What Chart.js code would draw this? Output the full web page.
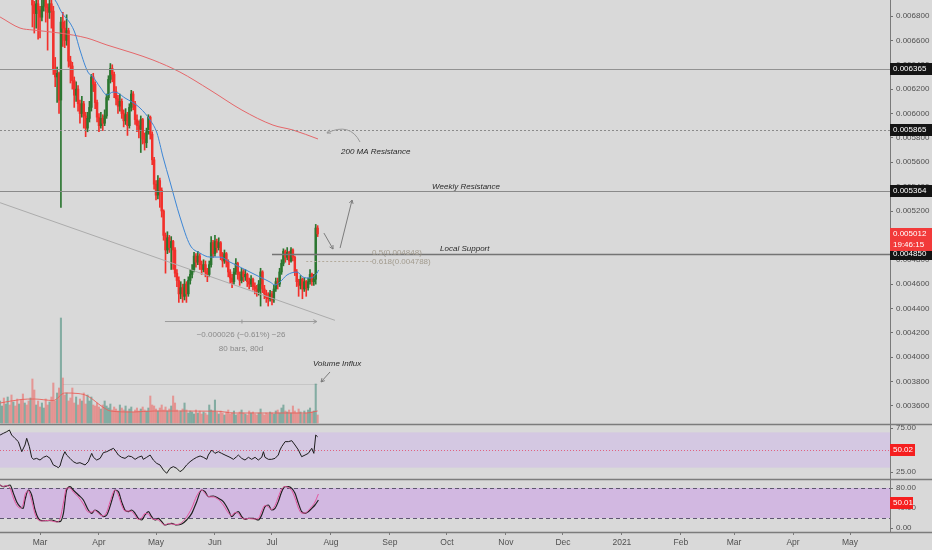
<!DOCTYPE html>
<html>
<head>
<meta charset="utf-8">
<title>Daily chart</title>
<script src="https://cdn.jsdelivr.net/npm/chart.js@4.4.0/dist/chart.umd.min.js"></script>
<style>
  html, body { margin: 0; padding: 0; background: #d9d9d9; }
  #wrap { width: 932px; height: 550px; }
</style>
</head>
<body>
<div id="wrap"><canvas id="chart" width="932" height="550"></canvas></div>
<script>
// ===== data: prices in 1e-6 units, day 0 = 1 Mar 2020, one candle per day =====
const firstDay = -21;
const firstOpen = 7100;
const closes = [
  7150, 7200, 7120, 7180, 7250, 7190, 7100, 7160, 7080, 7020,
  7090, 7050, 6990, 7060, 7010, 6960, 7000, 6890, 6820, 6900,
  6850, 6790, 6880, 6930, 6870, 6830, 6900, 6840, 6360, 6300,
  6330, 6110, 6750, 6700, 6600, 6680, 6430, 6390, 6270, 6150,
  6200, 6080, 6000, 6080, 5980, 5880, 5960, 6050, 6300, 6240,
  6090, 5970, 5900, 5960, 5920, 5980, 6130, 6280, 6370, 6320,
  6180, 6120, 6060, 6100, 6000, 5940, 5990, 5900, 6050, 6160,
  6080, 5950, 5900, 5870, 5950, 5790, 5760, 5850, 5970, 5830,
  5620, 5420, 5330, 5450, 5370, 5200, 5000, 4880, 4980, 4900,
  4950, 4880, 4690, 4630, 4520, 4570, 4500, 4600, 4520, 4630,
  4680, 4720, 4830, 4780, 4830, 4760, 4720, 4760, 4700, 4680,
  4760, 4940, 4850, 4950, 4900, 4940, 4830, 4790, 4850, 4780,
  4700, 4650, 4620, 4700, 4770, 4680, 4630, 4700, 4660, 4680,
  4620, 4600, 4640, 4580, 4560, 4540, 4600, 4700, 4560, 4520,
  4490, 4480, 4520, 4470, 4560, 4620, 4600, 4700, 4770, 4870,
  4820, 4860, 4790, 4880, 4820, 4700, 4620, 4590, 4640, 4560,
  4620, 4570, 4620, 4680, 4620, 4640, 5060, 5012
];
const highs = [
  7230, 7260, 7230, 7240, 7320, 7280, 7210, 7200, 7190, 7110,
  7140, 7130, 7080, 7100, 7090, 7040, 7060, 7020, 6920, 6940,
  6960, 6880, 6950, 7000, 6960, 6900, 6950, 6940, 6880, 6460,
  6380, 6340, 6790, 6830, 6760, 6810, 6700, 6470, 6420, 6300,
  6260, 6230, 6110, 6140, 6100, 6010, 6010, 6100, 6320, 6330,
  6260, 6110, 6000, 6010, 5990, 6030, 6160, 6310, 6410, 6400,
  6340, 6220, 6150, 6160, 6120, 6030, 6040, 6010, 6080, 6190,
  6180, 6100, 5990, 5940, 5980, 5960, 5840, 5880, 5990, 5980,
  5850, 5640, 5450, 5490, 5470, 5390, 5210, 5020, 5030, 5000,
  4990, 4960, 4900, 4720, 4660, 4620, 4600, 4640, 4620, 4660,
  4720, 4760, 4860, 4850, 4870, 4850, 4790, 4800, 4790, 4730,
  4790, 4990, 4960, 5000, 4970, 4980, 4950, 4860, 4880, 4860,
  4800, 4720, 4680, 4730, 4810, 4780, 4700, 4730, 4720, 4720,
  4690, 4650, 4670, 4650, 4610, 4590, 4630, 4730, 4710, 4590,
  4550, 4530, 4550, 4540, 4590, 4650, 4650, 4730, 4800, 4890,
  4880, 4900, 4870, 4900, 4890, 4830, 4720, 4640, 4670, 4650,
  4650, 4630, 4650, 4720, 4690, 4680, 5090, 5080
];
const lows = [
  7080, 7110, 7060, 7090, 7150, 7120, 7040, 7060, 7010, 6960,
  6990, 6980, 6950, 6970, 6950, 6945, 6940, 6710, 6660, 6700,
  6610, 6620, 6760, 6840, 6750, 6520, 6780, 6700, 6320, 6220,
  6090, 6000, 5230, 6550, 6540, 6560, 6380, 6250, 6200, 6050,
  6100, 6020, 5920, 5970, 5880, 5810, 5850, 5930, 6020, 6180,
  6040, 5930, 5850, 5880, 5860, 5900, 5960, 6110, 6250, 6260,
  6130, 6070, 6000, 6020, 5960, 5890, 5910, 5820, 5880, 6020,
  6030, 5910, 5850, 5800, 5680, 5750, 5700, 5720, 5830, 5790,
  5580, 5380, 5290, 5300, 5230, 5150, 4960, 4690, 4850, 4860,
  4720, 4720, 4660, 4580, 4450, 4480, 4450, 4470, 4450, 4500,
  4600, 4650, 4700, 4740, 4760, 4720, 4680, 4700, 4660, 4620,
  4660, 4740, 4820, 4830, 4860, 4880, 4800, 4740, 4770, 4740,
  4660, 4610, 4570, 4600, 4680, 4640, 4590, 4610, 4620, 4630,
  4580, 4560, 4580, 4550, 4520, 4500, 4510, 4420, 4530, 4480,
  4450, 4420, 4460, 4430, 4450, 4540, 4560, 4580, 4680, 4750,
  4780, 4800, 4760, 4780, 4790, 4670, 4580, 4500, 4560, 4480,
  4540, 4500, 4550, 4600, 4590, 4590, 4600, 4990
];
const volumes = [
  22, 17, 25, 19, 26, 18, 28, 21, 17, 24,
  19, 23, 29, 20, 18, 22, 25, 44, 33, 18,
  22, 16, 20, 15, 24, 18, 21, 26, 40, 22,
  30, 35, 105, 45, 28, 30, 22, 25, 35, 20,
  26, 18, 24, 22, 30, 19, 28, 22, 26, 18,
  17, 20, 16, 14, 18, 22, 17, 15, 19, 13,
  16, 14, 12, 18, 15, 13, 17, 12, 14, 16,
  11, 13, 15, 12, 14, 16, 13, 12, 15, 27,
  18, 17, 14, 12, 15, 18, 13, 16, 12, 14,
  17, 27, 20, 13, 11, 12, 14, 20, 13, 10,
  12, 11, 9, 13, 10, 12, 9, 11, 10, 8,
  18, 13, 12, 23, 11, 9, 12, 10, 8, 11,
  13, 9, 10, 12, 8, 9, 11, 13, 10, 9,
  8, 12, 10, 11, 9, 8, 10, 14, 9, 8,
  10, 9, 11, 10, 9, 12, 13, 10, 15, 18,
  12, 11, 13, 10, 17, 12, 10, 14, 11, 9,
  12, 10, 13, 15, 11, 12, 39, 8
];

// moving averages (sampled along the curve)
const blueMaDays = [-21, -5.3, 7.9, 11.6, 15.8, 18.4, 21, 25.2, 27.9, 31.6,
  35.2, 38.4, 41, 44.7, 48.4, 52.6, 57.9, 61.5, 64.7, 68.4,
  73.6, 78.9, 84.1, 89.4, 94.7, 99.9, 105.2, 110.4, 115.7, 121,
  123.6, 126.2, 129.9, 135.2, 138.3, 142, 145.7, 146.5];
const blueMaVals = [7177, 7054, 6931, 6824, 6742, 6660, 6521, 6340, 6299, 6217,
  6152, 6176, 6168, 6127, 6094, 6045, 5946, 5840, 5643, 5438,
  5151, 4921, 4855, 4822, 4822, 4781, 4740, 4699, 4658, 4617,
  4593, 4617, 4675, 4699, 4658, 4650, 4691, 4716];
const ma200Days = [-21, -10.5, -3.7, 10.5, 24.7, 35.2, 48.9, 59.4, 73.6, 89.4, 106.2, 122.5, 133.1, 146.2];
const ma200Vals = [6792, 6701, 6685, 6660, 6619, 6562, 6496, 6439, 6340, 6193, 6028, 5905, 5864, 5791];
const volMaDays = [-21, -10, -3, 7, 13, 20, 25, 33, 37, 49, 60, 93, 102, 119, 140, 146];
const volMaVals = [20, 23.5, 24, 22.5, 30, 29.5, 27, 16, 12, 11, 12, 11.8, 10, 10, 10, 12];

// RSI pane
const rsiDays = [
  -21.0, -19.3, -17.5, -16.1, -14.9, -13.2, -11.4, -9.6, -7.9, -7.0,
  -5.6, -4.4, -3.5, -1.8, 0.0, 1.8, 3.5, 5.3, 7.0, 8.8,
  9.6, 10.5, 11.4, 12.3, 13.1, 14.0, 15.8, 17.5, 19.3, 21.0,
  23.7, 25.4, 26.3, 27.2, 28.1, 29.8, 31.6, 33.3, 35.1, 36.8,
  38.6, 39.4, 41.2, 42.9, 44.7, 46.5, 48.2, 50.0, 51.7, 53.5,
  54.3, 56.1, 57.9, 59.6, 61.4, 63.1, 64.9, 66.6, 68.4, 70.1,
  71.9, 73.6, 75.0, 77.1, 78.9, 80.6, 82.4, 84.2, 85.9, 87.7,
  88.5, 90.3, 92.0, 93.8, 95.5, 97.3, 99.9, 101.7, 103.4, 104.3,
  106.1, 107.8, 109.6, 111.3, 113.1, 114.8, 116.6, 117.5, 118.3, 120.1,
  121.8, 123.6, 125.3, 126.2, 127.1, 128.9, 130.6, 132.4, 134.1, 135.9,
  137.6, 139.4, 141.1, 142.9, 144.0, 145.0, 146.0
];
const rsiVals = [
  67.0, 68.9, 70.8, 72.7, 67.0, 63.3, 59.5, 48.1, 55.7, 63.3,
  53.8, 41.7, 39.4, 40.5, 38.6, 41.7, 43.2, 40.5, 33.0, 31.1,
  29.9, 31.8, 38.6, 44.3, 48.1, 44.3, 40.5, 36.7, 34.8, 35.6,
  33.0, 36.7, 41.7, 46.2, 41.7, 38.6, 40.5, 47.0, 48.1, 50.0,
  51.9, 50.0, 44.3, 41.7, 40.5, 43.2, 42.4, 39.4, 41.7, 43.2,
  39.4, 41.7, 44.3, 38.6, 34.8, 33.0, 27.3, 23.5, 29.2, 31.1,
  29.2, 25.4, 27.3, 33.0, 36.7, 39.4, 41.7, 43.2, 41.7, 39.4,
  44.3, 50.0, 46.2, 48.1, 46.2, 44.3, 41.7, 39.4, 42.4, 44.3,
  40.5, 38.6, 41.7, 39.4, 41.7, 38.6, 41.7, 48.1, 41.7, 39.4,
  39.4, 40.5, 44.3, 50.0, 53.8, 59.5, 59.5, 60.6, 55.7, 50.0,
  42.4, 44.3, 46.2, 51.9, 46.2, 67.0, 65.0
];

// Stoch RSI pane
const stochDays = [
  -21.0, -19.3, -17.5, -15.8, -14.0, -12.3, -10.5, -8.8, -7.9, -6.1,
  -4.4, -2.6, -0.9, 0.9, 3.5, 6.1, 8.8, 10.5, 12.3, 14.0,
  15.8, 17.5, 20.2, 22.8, 25.4, 27.2, 28.9, 30.7, 33.3, 35.1,
  36.8, 38.6, 39.4, 41.2, 42.9, 44.7, 46.5, 48.2, 50.0, 51.7,
  53.5, 55.2, 57.0, 58.7, 60.5, 62.2, 64.0, 65.7, 67.5, 69.2,
  71.9, 74.5, 77.1, 79.8, 82.4, 85.0, 86.8, 88.5, 91.2, 93.8,
  96.4, 99.1, 100.8, 102.6, 104.3, 106.1, 107.8, 109.6, 112.2, 114.8,
  116.6, 118.3, 120.1, 121.8, 123.6, 125.3, 127.1, 128.9, 130.6, 132.4,
  134.1, 135.9, 137.6, 139.4, 141.1, 142.9, 144.6, 146.4
];
const stochK = [
  86, 83, 85, 80, 60, 46, 40, 48, 66, 74,
  55, 28, 16, 14, 15, 14, 12, 18, 50, 80,
  80, 72, 62, 48, 32, 32, 35, 29, 24, 32,
  52, 72, 76, 66, 46, 34, 34, 33, 25, 17,
  20, 29, 28, 19, 17, 16, 10, 6, 9, 8,
  7, 11, 22, 40, 64, 76, 69, 63, 62, 57,
  46, 30, 25, 31, 29, 20, 18, 19, 18, 19,
  34, 45, 42, 37, 45, 62, 78, 83, 81, 75,
  60, 40, 30, 30, 35, 43, 52, 68
];
const stochD = [
  86, 82.7, 84, 86, 69.3, 52.7, 42.7, 39.3, 56, 76,
  66, 36, 19.3, 14.7, 14.7, 16, 12.7, 12.7, 29.3, 76,
  82.7, 76, 66, 56, 36, 29.3, 36, 32.7, 22.7, 26,
  42.7, 66, 76, 72.7, 52.7, 36, 32.7, 36, 29.3, 19.3,
  16, 26, 32.7, 22.7, 16, 19.3, 12.7, 6, 8, 9.3,
  6, 8, 16, 29.3, 52.7, 76, 72.7, 62.7, 64, 59.3,
  52.7, 36, 22.7, 29.3, 32.7, 22.7, 17.3, 19.3, 19.3, 16,
  26, 42.7, 46, 36, 39.3, 52.7, 72.7, 82.7, 82.7, 79.3,
  69.3, 49.3, 32.7, 29.3, 32.7, 39.3, 46, 56
];

// axis ticks and marked levels
const monthDays = [0, 31, 61, 92, 122, 153, 184, 214, 245, 275, 306, 337, 365, 396, 426];
const monthLabels = ["Mar", "Apr", "May", "Jun", "Jul", "Aug", "Sep", "Oct", "Nov", "Dec", "2021", "Feb", "Mar", "Apr", "May"];
const priceTicks = [3600, 3800, 4000, 4200, 4400, 4600, 4800, 5000, 5200, 5400, 5600, 5800, 6000, 6200, 6400, 6600, 6800];
const levelPrices = [6365, 5865, 5364, 4850];
const lastPrice = 5012;
const countdown = "19:46:15";
const rsiLast = 50.02;
const stochLast = 50.01;

// ===== derived series =====
const days = closes.map((_, i) => firstDay + i);
const opens = closes.map((c, i) => i === 0 ? firstOpen : closes[i - 1]);
const isUp = closes.map((c, i) => c >= opens[i]);

const BG = "#d9d9d9";
const UP = "#2b7630";
const DOWN = "#f2302b";
const FONT = "'Liberation Sans', Arial, sans-serif";

Chart.defaults.font.family = FONT;
Chart.defaults.font.size = 8;

const pts = (xs, ys) => xs.map((x, i) => ({ x: x, y: ys[i] }));

// ===== drawing helpers =====
function hline(ctx, x1, x2, y, color, w, dash) {
    ctx.save();
    ctx.strokeStyle = color;
    ctx.lineWidth = w;
    ctx.setLineDash(dash || []);
    const yy = Math.round(y) + 0.5;
    ctx.beginPath();
    ctx.moveTo(x1, yy);
    ctx.lineTo(x2, yy);
    ctx.stroke();
    ctx.restore();
}

function arrowHead(ctx, x, y, angle, size) {
    ctx.beginPath();
    ctx.moveTo(x - size * Math.cos(angle - 0.5), y - size * Math.sin(angle - 0.5));
    ctx.lineTo(x, y);
    ctx.lineTo(x - size * Math.cos(angle + 0.5), y - size * Math.sin(angle + 0.5));
    ctx.stroke();
}

function arrow(ctx, x1, y1, x2, y2, size) {
    ctx.beginPath();
    ctx.moveTo(x1, y1);
    ctx.lineTo(x2, y2);
    ctx.stroke();
    arrowHead(ctx, x2, y2, Math.atan2(y2 - y1, x2 - x1), size);
}

function axisBox(ctx, x, y, texts, color, w) {
    const h = 11 * texts.length + 1;
    ctx.fillStyle = color;
    ctx.fillRect(x, Math.round(y - 6), w, h);
    ctx.fillStyle = "#ffffff";
    ctx.font = "8px " + FONT;
    ctx.textAlign = "left";
    ctx.textBaseline = "middle";
    texts.forEach((t, i) => ctx.fillText(t, x + 3, y + i * 11));
}

const decor = {
    id: "decor",
    beforeDraw(chart) {
        const ctx = chart.ctx;
        ctx.save();
        ctx.fillStyle = BG;
        ctx.fillRect(0, 0, chart.width, chart.height);
        ctx.restore();
    },
    beforeDatasetsDraw(chart) {
        const { ctx, chartArea: a, scales: s } = chart;
        ctx.save();
        // RSI 30-70 band
        let t = s.rsi.getPixelForValue(70), b = s.rsi.getPixelForValue(30);
        ctx.fillStyle = "rgba(200,150,255,0.25)";
        ctx.fillRect(a.left, t, a.width, b - t);
        // Stoch 20-80 band
        t = s.sto.getPixelForValue(80);
        b = s.sto.getPixelForValue(20);
        ctx.fillStyle = "rgba(195,120,240,0.34)";
        ctx.fillRect(a.left, t, a.width, b - t);
        ctx.restore();
        hline(ctx, a.left, a.right, s.rsi.getPixelForValue(50), "rgba(226,80,110,0.85)", 1, [1, 2]);
        hline(ctx, a.left, a.right, s.sto.getPixelForValue(80), "#5e5670", 1, [4, 3]);
        hline(ctx, a.left, a.right, s.sto.getPixelForValue(20), "#5e5670", 1, [4, 3]);
        // faint line at the volume spike level
        hline(ctx, s.x.getPixelForValue(12), s.x.getPixelForValue(146), s.vol.getPixelForValue(39), "#c6c6c6", 1);
    },
    afterDatasetsDraw(chart) {
        const { ctx, chartArea: a, scales: s } = chart;
        const X = d => s.x.getPixelForValue(d);
        const Y = p => s.y.getPixelForValue(p);

        // horizontal levels
        hline(ctx, a.left, a.right, Y(6365), "#929292", 1);
        hline(ctx, a.left, a.right, Y(5865), "#8a8a8a", 1, [2, 2]);
        hline(ctx, a.left, a.right, Y(5364), "#8a8a8a", 1);
        hline(ctx, X(122), a.right, Y(4850), "#747474", 1.5);
        hline(ctx, X(140), X(174.4), Y(4788), "#b3aa9b", 1, [2, 2]);

        ctx.save();
        // falling trendline
        ctx.strokeStyle = "#acacac";
        ctx.lineWidth = 1;
        ctx.beginPath();
        ctx.moveTo(X(-21), Y(5268));
        ctx.lineTo(X(155.1), Y(4303));
        ctx.stroke();

        // date range measure
        ctx.strokeStyle = "#9a9a9a";
        arrow(ctx, X(65.7), Y(4293), X(145.6), Y(4293), 4);
        ctx.beginPath();
        ctx.moveTo(X(106.2), Y(4293) - 2);
        ctx.lineTo(X(106.2), Y(4293) + 2);
        ctx.stroke();

        // arrows
        ctx.strokeStyle = "#7c7c7c";
        arrow(ctx, X(149.3), Y(5019), X(154.1), Y(4888), 4);
        arrow(ctx, X(157.8), Y(4896), X(164.1), Y(5290), 4);
        arrow(ctx, X(152.5), Y(3879), X(147.8), Y(3797), 4);
        ctx.strokeStyle = "#9a9a9a";
        ctx.beginPath();
        ctx.moveTo(X(168.3), Y(5766));
        ctx.quadraticCurveTo(X(163.0), Y(5930), X(150.9), Y(5840));
        ctx.stroke();
        arrowHead(ctx, X(150.9), Y(5840), Math.atan2(Y(5840) - Y(5930), X(150.9) - X(163.0)), 4);

        // notes
        ctx.textBaseline = "middle";
        ctx.textAlign = "left";
        ctx.fillStyle = "#2a2a2a";
        ctx.font = "italic 8px " + FONT;
        ctx.fillText("200 MA Resistance", X(158.3), Y(5684));
        ctx.fillText("Weekly Resistance", X(206.2), Y(5397));
        ctx.fillText("Local Support", X(210.4), Y(4888));
        ctx.fillText("Volume Influx", X(143.6), Y(3945));

        ctx.font = "8px " + FONT;
        ctx.fillStyle = "#a29b8e";
        ctx.fillText("0.5(0.004848)", X(174.6), Y(4855));
        ctx.fillText("0.618(0.004788)", X(174.6), Y(4781));

        ctx.textAlign = "center";
        ctx.fillStyle = "#8a8a8a";
        ctx.fillText("\u22120.000026 (\u22120.61%) \u221226", X(105.7), Y(4183));
        ctx.fillText("80 bars, 80d", X(105.7), Y(4068));
        ctx.restore();
    },
    afterDraw(chart) {
        const { ctx, chartArea: a, scales: s } = chart;
        // pane separators across the full width
        hline(ctx, 0, chart.width, s.rsi.top - 0.5, "#7c7c7c", 1.5);
        hline(ctx, 0, chart.width, s.sto.top - 0.5, "#7c7c7c", 1.5);
        hline(ctx, 0, chart.width, s.x.top - 0.5, "#7c7c7c", 1.5);

        ctx.save();
        const w = chart.width - a.right;
        levelPrices.forEach(p => axisBox(ctx, a.right, s.y.getPixelForValue(p), [(p / 1e6).toFixed(6)], "#141414", w));
        axisBox(ctx, a.right, s.y.getPixelForValue(lastPrice), [(lastPrice / 1e6).toFixed(6), countdown], "#f23a3a", w);
        axisBox(ctx, a.right, s.rsi.getPixelForValue(rsiLast), [rsiLast.toFixed(2)], "#f51f1f", 25);
        axisBox(ctx, a.right, s.sto.getPixelForValue(stochLast), [stochLast.toFixed(2)], "#f51f1f", 23);
        ctx.restore();
    }
};

const rightAxis = (extra) => Object.assign({
    type: "linear",
    axis: "y",
    position: "right",
    stack: "panes",
    grid: { drawOnChartArea: false, tickLength: 3, color: "#6f6f6f" },
    border: { color: "#7a7a7a" },
    ticks: { color: "#505050", padding: 3, autoSkip: false },
    afterFit: sc => { sc.width = 42; sc.paddingTop = 0; sc.paddingBottom = 0; }
}, extra);

new Chart(document.getElementById("chart"), {
    type: "bar",
    data: {
        datasets: [
            {
                type: "line", label: "Volume MA", yAxisID: "vol",
                data: pts(volMaDays, volMaVals),
                borderColor: "rgba(232,96,90,0.9)", borderWidth: 1,
                pointRadius: 0, cubicInterpolationMode: "monotone", order: 9
            },
            {
                label: "Volume", yAxisID: "vol",
                data: days.map((d, i) => ({ x: d, y: volumes[i] })),
                backgroundColor: isUp.map(u => u ? "rgba(45,128,108,0.5)" : "rgba(239,83,80,0.5)"),
                barThickness: 1.4, grouped: false, order: 10
            },
            {
                type: "line", label: "MA 200", yAxisID: "y",
                data: pts(ma200Days, ma200Vals),
                borderColor: "#e5676a", borderWidth: 1,
                pointRadius: 0, cubicInterpolationMode: "monotone", order: 2
            },
            {
                label: "Wicks", yAxisID: "y",
                data: days.map((d, i) => ({ x: d, y: [lows[i], highs[i]] })),
                backgroundColor: isUp.map(u => u ? UP : DOWN),
                barThickness: 1, grouped: false, order: 5
            },
            {
                label: "Bodies", yAxisID: "y",
                data: days.map((d, i) => ({ x: d, y: [opens[i], closes[i]] })),
                backgroundColor: isUp.map(u => u ? UP : DOWN),
                barThickness: 1.8, minBarLength: 1, grouped: false, order: 4
            },
            {
                type: "line", label: "MA", yAxisID: "y",
                data: pts(blueMaDays, blueMaVals),
                borderColor: "#3c86d6", borderWidth: 1,
                pointRadius: 0, cubicInterpolationMode: "monotone", order: 1
            },
            {
                type: "line", label: "RSI", yAxisID: "rsi",
                data: pts(rsiDays, rsiVals),
                borderColor: "#1c1c1c", borderWidth: 1, pointRadius: 0, tension: 0, order: 1
            },
            {
                type: "line", label: "Stoch D", yAxisID: "sto",
                data: pts(stochDays, stochD),
                borderColor: "#1f1f1f", borderWidth: 1.2, pointRadius: 0,
                cubicInterpolationMode: "monotone", order: 1
            },
            {
                type: "line", label: "Stoch K", yAxisID: "sto",
                data: pts(stochDays, stochK),
                borderColor: "#e3579e", borderWidth: 1, pointRadius: 0,
                cubicInterpolationMode: "monotone", order: 0
            }
        ]
    },
    options: {
        responsive: false,
        maintainAspectRatio: false,
        devicePixelRatio: 1,
        animation: false,
        events: [],
        layout: { padding: 0 },
        plugins: { legend: { display: false }, tooltip: { enabled: false } },
        scales: {
            x: {
                type: "linear", min: -21.04, max: 447.0, offset: false,
                grid: { display: true, drawOnChartArea: false, offset: false, tickLength: 3, color: "#7a7a7a" },
                border: { color: "#7a7a7a" },
                afterBuildTicks: sc => { sc.ticks = monthDays.map(v => ({ value: v })); },
                ticks: {
                    autoSkip: false, maxRotation: 0, padding: 3, color: "#505050",
                    font: { size: 8.5 },
                    callback: v => monthLabels[monthDays.indexOf(v)]
                },
                afterFit: sc => { sc.height = 18; sc.paddingLeft = 0; sc.paddingRight = 0; }
            },
            y: rightAxis({
                stackWeight: 424, min: 3452.3, max: 6931.3,
                afterBuildTicks: sc => { sc.ticks = priceTicks.map(v => ({ value: v })); },
                ticks: { color: "#505050", padding: 3, autoSkip: false, callback: v => (v / 1e6).toFixed(6) }
            }),
            rsi: rightAxis({
                stackWeight: 55, min: 17.05, max: 79.55,
                afterBuildTicks: sc => { sc.ticks = [25, 75].map(v => ({ value: v })); },
                ticks: { color: "#505050", padding: 3, autoSkip: false, callback: v => v.toFixed(2) }
            }),
            sto: rightAxis({
                stackWeight: 53, min: -8, max: 98,
                afterBuildTicks: sc => { sc.ticks = [0, 40, 80].map(v => ({ value: v })); },
                ticks: { color: "#505050", padding: 3, autoSkip: false, callback: v => v.toFixed(2) }
            }),
            vol: { type: "linear", axis: "y", position: "right", display: false, min: -109, max: 423 }
        }
    },
    plugins: [decor]
});
</script>
</body>
</html>
